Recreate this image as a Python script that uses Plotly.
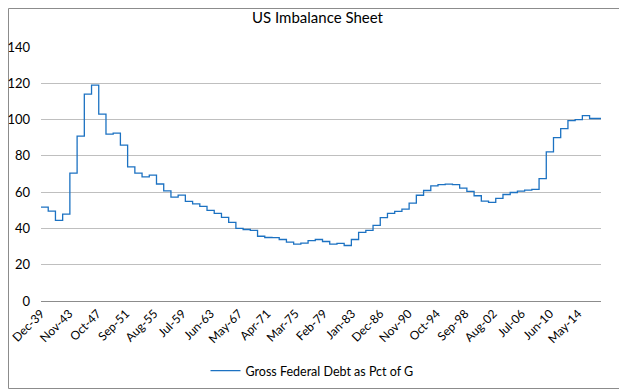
import pandas as pd
import plotly.graph_objects as go

title_text = "US Imbalance Sheet"
series_name = "Gross Federal Debt as Pct of G"
first_month = "1939-12-01"
last_month = "2017-07-01"

# annual values (each held for twelve months, starting each December)
debt_pct = [51.7, 49.5, 44.4, 47.9, 70.5, 90.9, 114.0, 119.0, 103.0, 92.0,
            92.5, 85.9, 73.9, 70.5, 68.4, 69.4, 64.5, 60.7, 57.2, 58.4,
            54.9, 53.5, 52.2, 50.0, 48.3, 46.1, 43.3, 40.0, 39.4, 38.9,
            35.7, 35.0, 34.9, 33.9, 32.4, 31.3, 31.9, 33.3, 33.9, 32.8,
            31.4, 31.8, 30.6, 33.9, 37.8, 38.9, 41.7, 45.9, 48.3, 49.4,
            50.6, 53.9, 58.3, 60.9, 63.5, 64.1, 64.4, 64.1, 62.2, 60.4,
            58.0, 55.0, 54.4, 56.6, 58.7, 59.8, 60.6, 61.1, 61.5, 67.5,
            82.2, 90.1, 95.0, 99.4, 100.0, 102.2, 100.6, 100.6]

tick_labels = ["Dec-39", "Nov-43", "Oct-47", "Sep-51", "Aug-55", "Jul-59",
               "Jun-63", "May-67", "Apr-71", "Mar-75", "Feb-79", "Jan-83",
               "Dec-86", "Nov-90", "Oct-94", "Sep-98", "Aug-02", "Jul-06",
               "Jun-10", "May-14"]
y_ticks = [0, 20, 40, 60, 80, 100, 120, 140]

step_starts = list(pd.date_range(first_month, periods=len(debt_pct), freq="12MS"))
x_vals = step_starts + [pd.Timestamp(last_month)]
y_vals = debt_pct + [debt_pct[-1]]


def label_to_date(lbl):
    d = pd.to_datetime(lbl, format="%b-%y")
    if d.year > 2030:
        d = d - pd.DateOffset(years=100)
    return d


tick_dates = [label_to_date(t) for t in tick_labels]

# the page body adds an 8px offset; the figure is sized so the window matches
OFF = 8
W, H = 627 - OFF, 392 - OFF
L, T = 41 - OFF, 47 - OFF
PW, PH = 560, 254
R, B = W - L - PW, H - T - PH


def px_x(px):
    return (px - OFF - L) / PW


def px_y(py):
    return (T + PH - (py - OFF)) / PH


FONT = "Lato"

fig = go.Figure()
fig.add_trace(go.Scatter(
    x=x_vals, y=y_vals, mode="lines", name=series_name,
    line=dict(color="#1C72C2", width=1.3, shape="hv"),
))

fig.update_layout(
    width=W, height=H,
    margin=dict(l=L, r=R, t=T, b=B, autoexpand=False),
    paper_bgcolor="white", plot_bgcolor="white",
    font=dict(family=FONT, size=12, color="#000000"),
    title=dict(text=title_text, x=0.5, xanchor="center", y=1 - (18 - OFF) / H,
               yanchor="middle", font=dict(family=FONT, size=15, color="#000000")),
    showlegend=True,
    legend=dict(orientation="h", x=px_x(312), xanchor="center",
                y=px_y(371), yanchor="middle",
                font=dict(family=FONT, size=12.5, color="#000000"),
                bgcolor="rgba(0,0,0,0)"),
    xaxis=dict(type="date", range=[first_month, last_month],
               tickmode="array", tickvals=tick_dates, ticktext=tick_labels,
               tickangle=-45, showgrid=False, showline=True,
               linecolor="#8C8C8C", linewidth=1, ticks="",
               tickfont=dict(family=FONT, size=12, color="#000000"),
               automargin=False, zeroline=False),
    yaxis=dict(range=[0, 140], tickmode="array", tickvals=y_ticks,
               showgrid=True, gridcolor="#BFBFBF", gridwidth=1,
               zeroline=False, showline=False, ticks="",
               tickfont=dict(family=FONT, size=13, color="#000000"),
               automargin=False, ticklabelstandoff=10),
    shapes=[dict(type="rect", xref="paper", yref="paper",
                 x0=px_x(8.5), x1=px_x(625.5), y0=px_y(388.5), y1=px_y(8.5),
                 line=dict(color="#8C8C8C", width=1), layer="below")],
)

fig.write_html("out.html")
